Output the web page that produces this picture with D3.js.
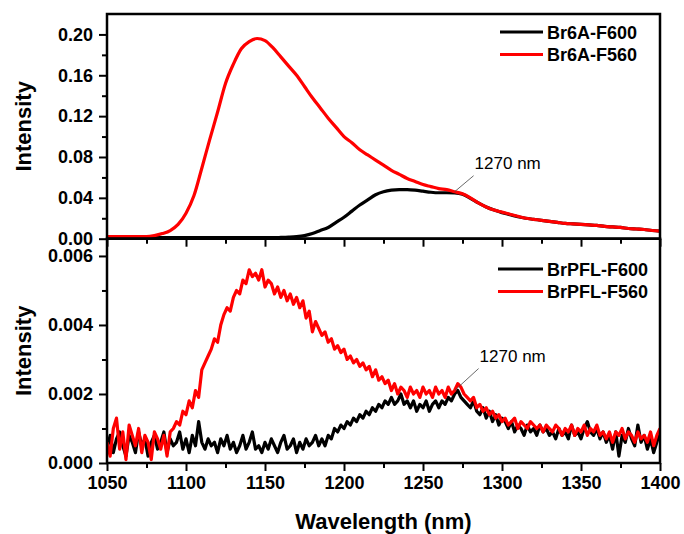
<!DOCTYPE html>
<html>
<head>
<meta charset="utf-8">
<script src="https://cdn.jsdelivr.net/npm/d3@7/dist/d3.min.js"></script>
<style>
  body { margin: 0; background: #fff; }
  svg { display: block; font-family: "Liberation Sans", Arial, sans-serif; }
</style>
</head>
<body>
<svg width="684" height="534"></svg>
<script>
// Top panel: smooth spectra, read every 5 nm
const wlTop = d3.range(1050, 1401, 5);
const br6aF600 = [
  0.001, 0.001, 0.001, 0.001, 0.001, 0.001, 0.001, 0.001, 0.001, 0.001, 0.001,
  0.001, 0.001, 0.001, 0.001, 0.001, 0.001, 0.001, 0.001, 0.001, 0.001,
  0.001, 0.0012, 0.0015, 0.002, 0.003, 0.005, 0.008, 0.011, 0.016, 0.021,
  0.027, 0.033, 0.038, 0.043, 0.046, 0.0475, 0.048, 0.048, 0.0475, 0.0465,
  0.0455, 0.045, 0.045, 0.0448, 0.0435, 0.0395, 0.035, 0.031, 0.028, 0.0255,
  0.0235, 0.0215, 0.020, 0.019, 0.018, 0.017, 0.016, 0.015, 0.0145, 0.014,
  0.0135, 0.013, 0.012, 0.0115, 0.011, 0.010, 0.0095, 0.009, 0.008, 0.0075
];
const br6aF560 = [
  0.002, 0.002, 0.002, 0.002, 0.002, 0.002, 0.003, 0.005, 0.008, 0.014, 0.025,
  0.042, 0.069, 0.097, 0.124, 0.152, 0.171, 0.186, 0.193, 0.196, 0.194,
  0.187, 0.178, 0.169, 0.160, 0.149, 0.138, 0.128, 0.118, 0.109, 0.100,
  0.094, 0.087, 0.082, 0.077, 0.072, 0.067, 0.063, 0.059, 0.056, 0.053,
  0.051, 0.049, 0.048, 0.046, 0.044, 0.040, 0.035, 0.031, 0.028, 0.026,
  0.024, 0.022, 0.020, 0.019, 0.018, 0.017, 0.016, 0.015, 0.0145, 0.014,
  0.0135, 0.013, 0.012, 0.0115, 0.011, 0.010, 0.0095, 0.009, 0.008, 0.0075
];

// Bottom panel: noisy spectra, read every 2 nm
const wlBot = d3.range(1050, 1401, 2);
const brpflF600 = [
  0.0004, 0.0008, 0.0003, 0.0007, 0.0009, 0.0005, 0.0002, 0.0008, 0.0006, 0.0003,
  0.0009, 0.0005, 0.0007, 0.0002, 0.0006, 0.0008, 0.0004, 0.0006, 0.0009, 0.0003,
  0.0007, 0.0005, 0.0006, 0.0009, 0.0004, 0.0007, 0.0003, 0.0008, 0.0005, 0.0012,
  0.0006, 0.0004, 0.0007, 0.0005, 0.0006, 0.0003, 0.0007, 0.0005, 0.0008, 0.0004,
  0.0006, 0.0003, 0.0005, 0.0008, 0.0004, 0.0006, 0.0009, 0.0004, 0.0005, 0.0003,
  0.0006, 0.0004, 0.0007, 0.0005, 0.0003, 0.0006, 0.0008, 0.0004, 0.0005, 0.0007,
  0.0003, 0.0006, 0.0004, 0.0007, 0.0005, 0.0006, 0.0008, 0.0005, 0.0007, 0.0005,
  0.0008, 0.0007, 0.0010, 0.0009, 0.0011, 0.0010, 0.0012, 0.0011, 0.0013, 0.0012,
  0.0014, 0.0013, 0.0015, 0.0014, 0.0016, 0.0015, 0.0017, 0.0016, 0.0018, 0.0017,
  0.0019, 0.0017, 0.0018, 0.0020, 0.0017, 0.0018, 0.0016, 0.0018, 0.0015, 0.0017,
  0.0016, 0.0018, 0.0015, 0.0017, 0.0018, 0.0016, 0.0018, 0.0017, 0.0019, 0.0018,
  0.0020, 0.0021, 0.0019, 0.0018, 0.0017, 0.0016, 0.0018, 0.0015, 0.0014, 0.0016,
  0.0013, 0.0015, 0.0012, 0.0014, 0.0011, 0.0013, 0.0012, 0.0010, 0.0012, 0.0009,
  0.0011, 0.0010, 0.0008, 0.0011, 0.0009, 0.0010, 0.0008, 0.0011, 0.0009, 0.0010,
  0.0008, 0.0009, 0.0007, 0.0010, 0.0008, 0.0009, 0.0007, 0.0011, 0.0008, 0.0009,
  0.0007, 0.0010, 0.0012, 0.0009, 0.0008, 0.0010, 0.0007, 0.0009, 0.0006, 0.0008,
  0.0004, 0.0009, 0.0002, 0.0008, 0.0006, 0.0010, 0.0007, 0.0005, 0.0011, 0.0006,
  0.0008, 0.0004, 0.0007, 0.0003, 0.0006, 0.0009
];
const brpflF560 = [
  0.0006, 0.0002, 0.0010, 0.0013, 0.0004, 0.0009, 0.0001, 0.0011, 0.0008, 0.0005,
  0.0010, 0.0003, 0.0008, 0.0006, 0.0001, 0.0009, 0.0007, 0.0004, 0.0008, 0.0002,
  0.0009, 0.0010, 0.0012, 0.0011, 0.0015, 0.0014, 0.0018, 0.0016, 0.0021, 0.0019,
  0.0027, 0.0029, 0.0031, 0.0033, 0.0036, 0.0035, 0.0040, 0.0043, 0.0045, 0.0044,
  0.0048, 0.0050, 0.0049, 0.0053, 0.0052, 0.0056, 0.0054, 0.0055, 0.0053, 0.0056,
  0.0051, 0.0053, 0.0052, 0.0049, 0.0051, 0.0048, 0.0050, 0.0047, 0.0049, 0.0046,
  0.0048, 0.0045, 0.0047, 0.0042, 0.0044, 0.0038, 0.0041, 0.0039, 0.0037, 0.0038,
  0.0035, 0.0036, 0.0033, 0.0034, 0.0032, 0.0033, 0.0030, 0.0031, 0.0029, 0.0030,
  0.0028, 0.0029, 0.0027, 0.0028, 0.0025, 0.0027, 0.0024, 0.0025, 0.0023, 0.0024,
  0.0021, 0.0023, 0.0020, 0.0022, 0.0021, 0.0019, 0.0022, 0.0020, 0.0021, 0.0019,
  0.0022, 0.0020, 0.0021, 0.0019, 0.0022, 0.0020, 0.0021, 0.0019, 0.0022, 0.0020,
  0.0021, 0.0023, 0.0022, 0.0020, 0.0019, 0.0018, 0.0019, 0.0016, 0.0017, 0.0015,
  0.0016, 0.0014, 0.0015, 0.0013, 0.0014, 0.0012, 0.0013, 0.0011, 0.0012, 0.0013,
  0.0010, 0.0012, 0.0011, 0.0010, 0.0012, 0.0011, 0.0010, 0.0011, 0.0009, 0.0011,
  0.0010, 0.0009, 0.0011, 0.0010, 0.0008, 0.0010, 0.0009, 0.0011, 0.0008, 0.0010,
  0.0009, 0.0011, 0.0008, 0.0010, 0.0009, 0.0011, 0.0008, 0.0009, 0.0007, 0.0009,
  0.0006, 0.0009, 0.0008, 0.0010, 0.0007, 0.0009, 0.0008, 0.0006, 0.0009, 0.0007,
  0.0008, 0.0006, 0.0009, 0.0005, 0.0008, 0.0010
];

const topLegend = ["Br6A-F600", "Br6A-F560"];
const botLegend = ["BrPFL-F600", "BrPFL-F560"];
const colors = ["#000000", "#ff0000"];
const xTicks = [1050, 1100, 1150, 1200, 1250, 1300, 1350, 1400];
const xMinor = [1075, 1125, 1175, 1225, 1275, 1325, 1375];
const yTopTicks = [0, 0.04, 0.08, 0.12, 0.16, 0.20];
const yTopMinor = [0.02, 0.06, 0.10, 0.14, 0.18];
const yBotTicks = [0, 0.002, 0.004, 0.006];
const yBotMinor = [0.001, 0.003, 0.005];

// layout
const left = 107, right = 660;
const topY0 = 14, mid = 238.7, botY1 = 463;

const svg = d3.select("svg");

const x = d3.scaleLinear().domain([1050, 1400]).range([left, right]);
const yTop = d3.scaleLinear().domain([0, 0.22]).range([mid, topY0]);
const yBot = d3.scaleLinear().domain([0, 0.0065]).range([botY1, mid]);

const defs = svg.append("defs");
defs.append("clipPath").attr("id", "clipTop").append("rect")
  .attr("x", left).attr("y", topY0).attr("width", right - left).attr("height", mid - topY0);
defs.append("clipPath").attr("id", "clipBot").append("rect")
  .attr("x", left).attr("y", mid).attr("width", right - left).attr("height", botY1 - mid);

function drawPanel(yScale, wl, series, curve, clip, lw) {
  const g = svg.append("g").attr("clip-path", `url(#${clip})`);
  series.forEach((vals, i) => {
    const line = d3.line()
      .x((d, j) => x(wl[j]))
      .y(d => yScale(d))
      .curve(curve);
    g.append("path")
      .datum(vals)
      .attr("d", line)
      .attr("fill", "none")
      .attr("stroke", colors[i])
      .attr("stroke-width", lw)
      .attr("stroke-linejoin", "round");
  });
}

drawPanel(yTop, wlTop, [br6aF600, br6aF560], d3.curveMonotoneX, "clipTop", 3.2);
drawPanel(yBot, wlBot, [brpflF600, brpflF560], d3.curveLinear, "clipBot", 3.2);

// axes helper
function styleAxis(g) {
  g.select(".domain").remove();
  g.selectAll(".tick line").attr("stroke", "#000").attr("stroke-width", 2);
  g.selectAll(".tick text")
    .attr("fill", "#000")
    .style("font-size", "18px")
    .style("font-weight", "bold");
}

// y axes
svg.append("g").attr("transform", `translate(${left},0)`)
  .call(d3.axisLeft(yTop).tickValues(yTopTicks).tickFormat(d3.format(".2f")).tickSize(8).tickPadding(6))
  .call(styleAxis);
svg.append("g").attr("transform", `translate(${left},0)`)
  .call(d3.axisLeft(yTop).tickValues(yTopMinor).tickFormat("").tickSize(5))
  .call(styleAxis);
svg.append("g").attr("transform", `translate(${left},0)`)
  .call(d3.axisLeft(yBot).tickValues(yBotTicks).tickFormat(d3.format(".3f")).tickSize(8).tickPadding(6))
  .call(styleAxis);
svg.append("g").attr("transform", `translate(${left},0)`)
  .call(d3.axisLeft(yBot).tickValues(yBotMinor).tickFormat("").tickSize(5))
  .call(styleAxis);

// x axes (between panels: ticks only; bottom: with labels)
svg.append("g").attr("transform", `translate(0,${mid})`)
  .call(d3.axisBottom(x).tickValues(xTicks).tickFormat("").tickSize(8))
  .call(styleAxis);
svg.append("g").attr("transform", `translate(0,${mid})`)
  .call(d3.axisBottom(x).tickValues(xMinor).tickFormat("").tickSize(5))
  .call(styleAxis);
svg.append("g").attr("transform", `translate(0,${botY1})`)
  .call(d3.axisBottom(x).tickValues(xTicks).tickFormat(d3.format("d")).tickSize(8).tickPadding(5))
  .call(styleAxis);
svg.append("g").attr("transform", `translate(0,${botY1})`)
  .call(d3.axisBottom(x).tickValues(xMinor).tickFormat("").tickSize(5))
  .call(styleAxis);

// frames
[[topY0, mid], [mid, botY1]].forEach(([a, b]) => {
  svg.append("rect")
    .attr("x", left).attr("y", a)
    .attr("width", right - left).attr("height", b - a)
    .attr("fill", "none").attr("stroke", "#000").attr("stroke-width", 2.5);
});

// axis titles
[[topY0, mid], [mid, botY1]].forEach(([a, b]) => {
  svg.append("text")
    .attr("transform", `translate(31,${(a + b) / 2}) rotate(-90)`)
    .attr("text-anchor", "middle")
    .style("font-size", "22px")
    .style("font-weight", "bold")
    .text("Intensity");
});
svg.append("text")
  .attr("x", (left + right) / 2).attr("y", 529)
  .attr("text-anchor", "middle")
  .style("font-size", "22px")
  .style("font-weight", "bold")
  .text("Wavelength (nm)");

// legends
function legend(labels, y0, lx0, lx1) {
  labels.forEach((lab, i) => {
    const y = y0 + i * 22.5;
    svg.append("line")
      .attr("x1", lx0).attr("x2", lx1).attr("y1", y).attr("y2", y)
      .attr("stroke", colors[i]).attr("stroke-width", 3);
    svg.append("text")
      .attr("x", lx1 + 4).attr("y", y + 6.5)
      .style("font-size", "18px")
      .style("font-weight", "bold")
      .text(lab);
  });
}
legend(topLegend, 32, 500, 543);
legend(botLegend, 269, 498, 543);

// 1270 nm annotations
function annotate(yScale, val, lx, ly, tx, ty) {
  const px = x(1270), py = yScale(val);
  svg.append("line")
    .attr("x1", px).attr("y1", py).attr("x2", px + lx).attr("y2", py + ly)
    .attr("stroke", "#444").attr("stroke-width", 0.8);
  svg.append("text")
    .attr("x", px + tx).attr("y", py + ty)
    .style("font-size", "17px")
    .text("1270 nm");
}
annotate(yTop, 0.046, 19, -16, 20, -22.5);
annotate(yBot, 0.0021, 24, -22, 25, -29);
</script>
</body>
</html>
